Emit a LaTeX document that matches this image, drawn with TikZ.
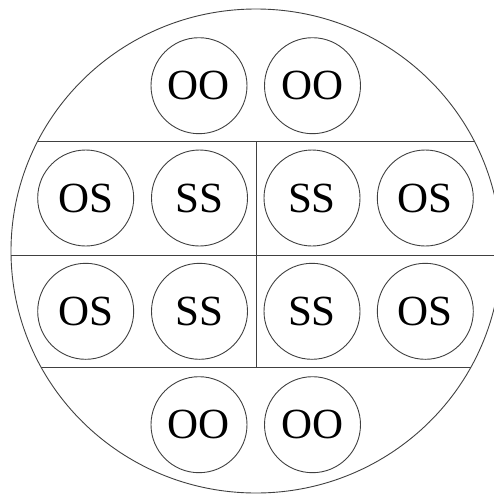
\documentclass[tikz,border=0pt]{standalone}
\usepackage{fontspec}
\setmainfont{Liberation Serif}
\begin{document}
\begin{tikzpicture}[x=1pt,y=-1pt,
  cell/.style={circle,draw=black!75,line width=0.9pt,minimum size=96pt,inner sep=0pt,
    font=\fontsize{43}{43}\selectfont},
  divider/.style={draw=black!75,line width=1pt}]
\useasboundingbox (0,0) rectangle (494,496);
\begin{scope}
\clip (0,0) rectangle (494,496);
\draw[draw=black!75,line width=0.9pt] (256,251) ellipse [x radius=245, y radius=242];
\begin{scope}
\clip (256,251) ellipse [x radius=245, y radius=242];
\coordinate (tl) at (0,141.7); \coordinate (tr) at (520,141.7);
\coordinate (ml) at (0,255); \coordinate (mr) at (520,255);
\coordinate (bl) at (0,367.5); \coordinate (br) at (520,367.5);
\draw[divider] (tl) -- (tr);
\draw[divider] (ml) -- (mr);
\draw[divider] (bl) -- (br);
\end{scope}
\end{scope}
\coordinate (vt) at (256,141.7); \coordinate (vb) at (256,367.5);
\draw[divider] (vt) -- (vb);
\node[cell] (oo1) at (199,85.7) {OO};
\node[cell] (oo2) at (312.5,85.7) {OO};
\node[cell] (os1) at (85.7,198) {OS};
\node[cell] (ss1) at (199.5,198) {SS};
\node[cell] (ss2) at (312,198) {SS};
\node[cell] (os2) at (425.3,198) {OS};
\node[cell] (os3) at (85.7,311.3) {OS};
\node[cell] (ss3) at (199.5,311.3) {SS};
\node[cell] (ss4) at (312,311.3) {SS};
\node[cell] (os4) at (425.3,311.3) {OS};
\node[cell] (oo3) at (199,424.7) {OO};
\node[cell] (oo4) at (312.5,424.7) {OO};
\end{tikzpicture}
\end{document}
